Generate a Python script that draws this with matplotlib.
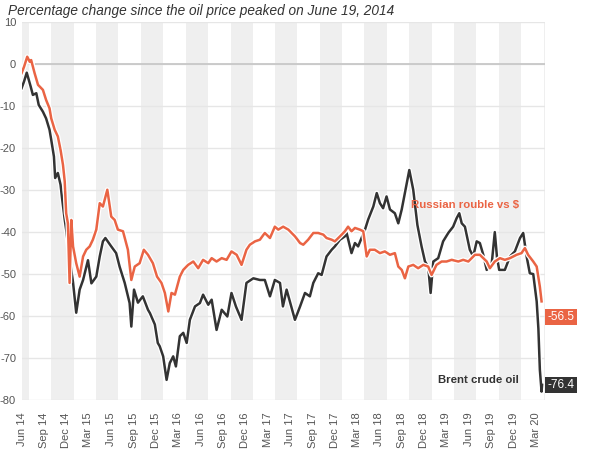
import matplotlib
matplotlib.use('Agg')
import matplotlib.pyplot as plt
import matplotlib.patheffects as pe
import matplotlib.transforms as mtransforms
import pandas as pd

plt.rcParams['font.family'] = ['Liberation Sans', 'DejaVu Sans']

title = "Percentage change since the oil price peaked on June 19, 2014"

brent_dates = [
    '2014-06-01', '2014-06-11', '2014-06-22', '2014-07-08', '2014-07-17', '2014-07-31', '2014-08-10',
    '2014-08-27', '2014-09-09', '2014-09-23', '2014-09-30', '2014-10-11', '2014-10-16', '2014-10-27',
    '2014-11-07', '2014-11-14', '2014-11-24', '2014-11-30', '2014-12-16', '2014-12-28', '2015-01-10',
    '2015-01-24', '2015-02-07', '2015-02-27', '2015-03-13', '2015-04-02', '2015-04-16', '2015-04-29',
    '2015-05-09', '2015-06-02', '2015-06-22', '2015-07-06', '2015-07-27', '2015-08-16', '2015-08-23',
    '2015-09-03', '2015-09-19', '2015-10-09', '2015-10-30', '2015-11-07', '2015-11-27', '2015-12-09',
    '2015-12-17', '2015-12-31', '2016-01-14', '2016-01-27', '2016-02-10', '2016-02-21', '2016-03-08',
    '2016-03-22', '2016-04-05', '2016-04-18', '2016-05-09', '2016-05-29', '2016-06-11', '2016-07-02',
    '2016-07-16', '2016-08-05', '2016-08-26', '2016-09-18', '2016-10-05', '2016-10-23', '2016-11-15',
    '2016-12-05', '2017-01-02', '2017-01-29', '2017-02-18', '2017-03-11', '2017-03-31', '2017-04-21',
    '2017-05-03', '2017-05-18', '2017-06-21', '2017-07-12', '2017-08-01', '2017-08-21', '2017-09-04',
    '2017-09-24', '2017-10-08', '2017-10-28', '2017-11-18', '2017-12-01', '2017-12-22', '2018-01-11',
    '2018-01-18', '2018-02-07', '2018-02-21', '2018-03-06', '2018-03-20', '2018-04-03', '2018-04-16',
    '2018-05-07', '2018-05-21', '2018-06-03', '2018-06-16', '2018-06-30', '2018-07-14', '2018-08-03',
    '2018-08-17', '2018-08-31', '2018-09-13', '2018-10-01', '2018-10-17', '2018-11-03', '2018-11-20',
    '2018-12-04', '2018-12-17', '2018-12-27', '2019-01-07', '2019-01-27', '2019-02-16', '2019-03-09',
    '2019-03-29', '2019-04-12', '2019-04-23', '2019-05-03', '2019-05-16', '2019-06-05', '2019-06-19',
    '2019-07-03', '2019-07-16', '2019-07-30', '2019-08-13', '2019-09-02', '2019-09-15', '2019-09-24',
    '2019-10-03', '2019-10-26', '2019-11-16', '2019-12-06', '2019-12-27', '2020-01-09', '2020-01-23',
    '2020-02-05', '2020-02-19', '2020-03-04', '2020-03-11', '2020-03-17', '2020-03-24', '2020-03-26',
]
brent_values = [
    -5.7, -4.1, -2.0, -5.3, -7.3, -6.9, -9.7,
    -11.3, -12.9, -15.6, -18.0, -22.0, -27.1, -25.9,
    -28.7, -32.3, -37.0, -39.4, -47.0, -52.0, -59.2,
    -53.7, -51.4, -46.7, -52.2, -50.6, -45.8, -42.2,
    -41.4, -43.4, -45.0, -48.2, -52.1, -56.9, -62.5,
    -53.7, -56.8, -55.3, -58.5, -59.3, -62.0, -66.4,
    -67.2, -69.6, -75.2, -71.2, -69.6, -72.0, -64.8,
    -64.0, -66.4, -60.9, -57.7, -56.9, -54.9, -57.3,
    -56.1, -63.3, -58.5, -60.1, -54.5, -57.7, -60.9,
    -52.1, -51.0, -51.4, -51.4, -55.3, -51.4, -52.1,
    -57.7, -53.7, -60.9, -57.7, -54.5, -55.3, -52.1,
    -49.8, -50.2, -45.8, -44.2, -43.4, -41.8, -41.0,
    -40.2, -45.0, -42.6, -43.4, -41.4, -39.4, -37.0,
    -33.9, -30.7, -33.1, -34.3, -31.5, -34.6, -35.5,
    -37.9, -34.6, -30.7, -25.2, -29.9, -38.3, -43.4,
    -47.0, -48.2, -54.5, -47.0, -46.2, -42.2, -40.2,
    -38.7, -36.7, -35.5, -37.9, -38.7, -44.2, -45.8,
    -42.2, -42.6, -45.4, -49.0, -47.8, -40.0, -46.0,
    -49.0, -49.0, -45.8, -44.6, -41.4, -40.2, -45.8,
    -49.8, -50.0, -56.5, -63.0, -72.8, -78.0, -76.4,
]

rouble_dates = [
    '2014-06-01', '2014-06-11', '2014-06-24', '2014-07-04', '2014-07-10', '2014-07-24', '2014-08-07',
    '2014-08-27', '2014-09-09', '2014-09-23', '2014-09-30', '2014-10-14', '2014-10-27', '2014-11-07',
    '2014-11-17', '2014-11-24', '2014-11-30', '2014-12-07', '2014-12-14', '2014-12-21', '2014-12-28',
    '2015-01-10', '2015-01-24', '2015-02-07', '2015-02-20', '2015-03-06', '2015-03-19', '2015-04-02',
    '2015-04-16', '2015-04-29', '2015-05-17', '2015-06-02', '2015-06-16', '2015-06-29', '2015-07-20',
    '2015-08-09', '2015-08-23', '2015-09-06', '2015-09-26', '2015-10-13', '2015-10-30', '2015-11-19',
    '2015-12-06', '2015-12-24', '2016-01-07', '2016-01-21', '2016-02-03', '2016-02-17', '2016-03-08',
    '2016-03-22', '2016-04-11', '2016-05-02', '2016-05-22', '2016-06-11', '2016-07-02', '2016-07-16',
    '2016-08-05', '2016-08-26', '2016-09-15', '2016-10-05', '2016-10-26', '2016-11-15', '2016-12-05',
    '2016-12-19', '2017-01-09', '2017-01-29', '2017-02-18', '2017-03-11', '2017-03-31', '2017-04-14',
    '2017-05-04', '2017-05-25', '2017-06-21', '2017-07-12', '2017-07-25', '2017-08-14', '2017-09-04',
    '2017-09-24', '2017-10-15', '2017-10-28', '2017-11-18', '2017-12-01', '2017-12-22', '2018-01-11',
    '2018-01-24', '2018-02-07', '2018-02-21', '2018-03-13', '2018-03-27', '2018-04-10', '2018-04-23',
    '2018-05-13', '2018-06-03', '2018-06-23', '2018-07-14', '2018-08-03', '2018-08-17', '2018-08-31',
    '2018-09-13', '2018-09-27', '2018-10-17', '2018-11-06', '2018-11-27', '2018-12-17', '2018-12-31',
    '2019-01-20', '2019-02-10', '2019-03-02', '2019-03-23', '2019-04-19', '2019-05-09', '2019-05-30',
    '2019-06-26', '2019-07-16', '2019-08-13', '2019-08-26', '2019-09-15', '2019-10-06', '2019-10-26',
    '2019-11-16', '2019-12-13', '2020-01-02', '2020-01-16', '2020-01-29', '2020-02-19', '2020-03-04',
    '2020-03-17', '2020-03-24',
]
rouble_values = [
    -2.1, -0.6, 1.8, 0.6, 1.0, -2.1, -4.9,
    -6.1, -8.5, -10.5, -12.9, -15.6, -17.2, -20.4,
    -24.0, -27.9, -35.5, -37.9, -52.1, -37.1, -43.4,
    -47.4, -50.6, -45.8, -44.2, -43.4, -41.8, -39.4,
    -33.1, -33.9, -29.9, -36.3, -37.1, -39.4, -39.8,
    -44.2, -51.4, -48.2, -47.4, -44.2, -45.4, -47.4,
    -50.6, -52.1, -54.5, -58.9, -54.5, -54.9, -50.6,
    -49.0, -47.8, -47.0, -48.6, -46.6, -47.4, -46.2,
    -47.0, -46.2, -46.6, -44.6, -45.4, -47.8, -44.2,
    -43.0, -42.2, -41.8, -40.2, -41.4, -38.7, -39.4,
    -38.7, -39.4, -41.0, -42.6, -43.0, -41.8, -40.2,
    -40.2, -40.6, -41.4, -41.8, -42.2, -41.0, -39.8,
    -38.7, -39.8, -39.0, -39.4, -39.8, -45.8, -44.2,
    -44.2, -45.0, -44.6, -45.4, -45.0, -48.2, -49.0,
    -51.0, -48.2, -47.8, -48.6, -47.8, -48.2, -50.2,
    -47.8, -47.0, -47.0, -46.6, -47.0, -46.6, -47.0,
    -45.4, -45.4, -47.0, -48.6, -47.0, -46.2, -46.6,
    -46.2, -45.4, -45.0, -43.8, -45.4, -47.0, -48.2,
    -53.0, -56.5,
]

brent_label = "Brent crude oil"
rouble_label = "Russian rouble vs $"
brent_last = "-76.4"
rouble_last = "-56.5"
y_ticks = [10, 0, -10, -20, -30, -40, -50, -60, -70, -80]

RED = '#ea6444'
DARK = '#333333'
W, H = 590, 458

fig = plt.figure(figsize=(W / 100, H / 100), dpi=100)
ax = fig.add_axes([21.6 / W, 1 - 400 / H, (545 - 21.6) / W, (400 - 22.3) / H])

x0 = pd.Timestamp('2014-06-01')
x1 = pd.Timestamp('2020-04-07')
ax.set_xlim(x0, x1)
ax.set_ylim(-80, 10)

# shaded quarters (Apr-Jun, Oct-Dec)
for qs in pd.date_range('2014-04-01', '2020-04-01', freq='QS'):
    if qs.month in (4, 10):
        ax.axvspan(qs, qs + pd.DateOffset(months=3), color='#efefef', lw=0, zorder=0)

for y in y_ticks:
    ax.axhline(y, color='#e6e6e6', lw=1, zorder=1)
ax.hlines(0, pd.Timestamp('2014-07-24'), x1, color='#c8c8c8', lw=1.3, zorder=1.5)

halo = [pe.Stroke(linewidth=3.6, foreground='white'), pe.Normal()]
ax.plot(pd.to_datetime(brent_dates), brent_values, color=DARK, lw=1.8,
        path_effects=halo, zorder=3, solid_joinstyle='round')
ax.plot(pd.to_datetime(rouble_dates), rouble_values, color=RED, lw=1.8,
        path_effects=halo, zorder=4, solid_joinstyle='round')

ax.text(pd.Timestamp('2019-12-21'), -33.5, rouble_label, ha='right', va='center',
        color=RED, fontweight='bold', fontsize=8.2, zorder=5)
ax.text(pd.Timestamp('2019-12-21'), -75.2, brent_label, ha='right', va='center',
        color=DARK, fontweight='bold', fontsize=8.2, zorder=5)

tr = mtransforms.blended_transform_factory(ax.transAxes, ax.transData)
ax.text(1.005, -60.3, rouble_last, transform=tr, ha='left', va='center', color='white',
        fontsize=8.5, bbox=dict(boxstyle='square,pad=0.18', fc=RED, ec='none'), zorder=6,
        clip_on=False)
ax.text(1.005, -76.4, brent_last, transform=tr, ha='left', va='center', color='white',
        fontsize=8.5, bbox=dict(boxstyle='square,pad=0.18', fc=DARK, ec='none'), zorder=6,
        clip_on=False)

tick_dates = pd.date_range('2014-06-01', '2020-03-01', freq='3MS')
ax.set_xticks(tick_dates)
ax.set_xticklabels([d.strftime('%b %y') for d in tick_dates], rotation=90,
                   fontsize=8, color='#555555')
ax.set_yticks(y_ticks)
ax.set_yticklabels([str(v) for v in y_ticks], fontsize=8, color='#555555')
ax.tick_params(axis='x', length=0, pad=9)
ax.tick_params(axis='y', length=0, pad=4)
for s in ax.spines.values():
    s.set_visible(False)
ax.set_facecolor('white')

fig.text(8 / W, 1 - 11 / H, title, ha='left', va='center', style='italic',
         fontsize=9.8, color='#333333')

fig.savefig('out.png', dpi=100)
